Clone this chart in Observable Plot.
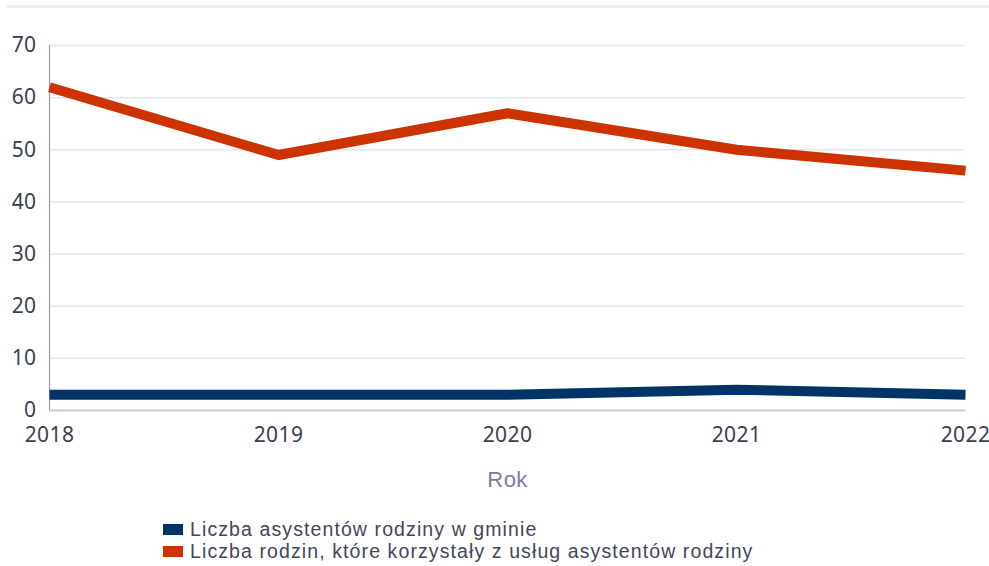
<!DOCTYPE html>
<html>
<head>
<meta charset="utf-8">
<script src="https://cdn.jsdelivr.net/npm/d3@7"></script>
<script src="https://cdn.jsdelivr.net/npm/@observablehq/plot@0.6"></script>
<style>
  body { margin: 0; background: #fff; width: 989px; height: 566px; overflow: hidden; position: relative; }
  #rule { position: absolute; top: 5px; left: 7px; right: 0; height: 3px; background: #ececf0; }
  #chart { position: absolute; top: 0; left: 0; }
  #legend { position: absolute; top: 518px; left: 163px; font-family: "Liberation Sans", Arial, sans-serif; font-size: 19.5px; letter-spacing: 1.1px; color: #44465a; line-height: 22px; }
  .item { display: flex; align-items: center; }
  .sw { width: 20px; height: 11px; margin-right: 7px; }
</style>
</head>
<body>
<div id="rule"></div>
<div id="chart"></div>
<div id="legend"></div>
<script>
const years = ["2018", "2019", "2020", "2021", "2022"];
const seriesNames = [
  "Liczba asystentów rodziny w gminie",
  "Liczba rodzin, które korzystały z usług asystentów rodziny"
];
const assistants = [3, 3, 3, 4, 3];
const families = [62, 49, 57, 50, 46];
const colors = ["#003366", "#cc3300"];
const yTicks = [0, 10, 20, 30, 40, 50, 60, 70];

const data = [];
years.forEach((y, i) => {
  data.push({ year: y, value: assistants[i], series: seriesNames[0] });
  data.push({ year: y, value: families[i], series: seriesNames[1] });
});

const plot = Plot.plot({
  width: 989,
  height: 500,
  marginTop: 45,
  marginLeft: 49,
  marginRight: 24,
  marginBottom: 90,
  style: { fontFamily: "'Noto Sans', sans-serif", fontSize: "21px", letterSpacing: "0.4px", background: "transparent", overflow: "visible" },
  x: { type: "point", domain: years, padding: 0 },
  y: { domain: [0, 70] },
  color: { domain: seriesNames, range: colors },
  marks: [
    Plot.ruleY(yTicks.filter(d => d > 0), { stroke: "#e6e6ee", strokeWidth: 1.5 }),
    Plot.ruleY([0], { stroke: "#c8c8d6", strokeWidth: 2 }),
    Plot.ruleX([years[0]], { stroke: "#9a9cb4", strokeWidth: 1.2 }),
    Plot.axisY({ ticks: yTicks, tickSize: 0, tickPadding: 13, fontSize: 21, fill: "#3c3e50", label: null }),
    Plot.axisX({ tickSize: 0, tickPadding: 17, fontSize: 21, fill: "#3c3e50", label: null }),
    Plot.text(["Rok"], { frameAnchor: "bottom", dy: 76, fontSize: 22, fill: "#7a7ea6", fontFamily: "'Liberation Sans', Arial, sans-serif" }),
    Plot.line(data, { x: "year", y: "value", z: "series", stroke: "series", strokeWidth: 10, strokeLinecap: "butt", strokeLinejoin: "round" })
  ]
});
document.getElementById("chart").appendChild(plot);

const legend = document.getElementById("legend");
seriesNames.forEach((name, i) => {
  const item = document.createElement("div");
  item.className = "item";
  const sw = document.createElement("span");
  sw.className = "sw";
  sw.style.background = colors[i];
  const t = document.createElement("span");
  t.textContent = name;
  item.appendChild(sw);
  item.appendChild(t);
  legend.appendChild(item);
});
</script>
</body>
</html>
